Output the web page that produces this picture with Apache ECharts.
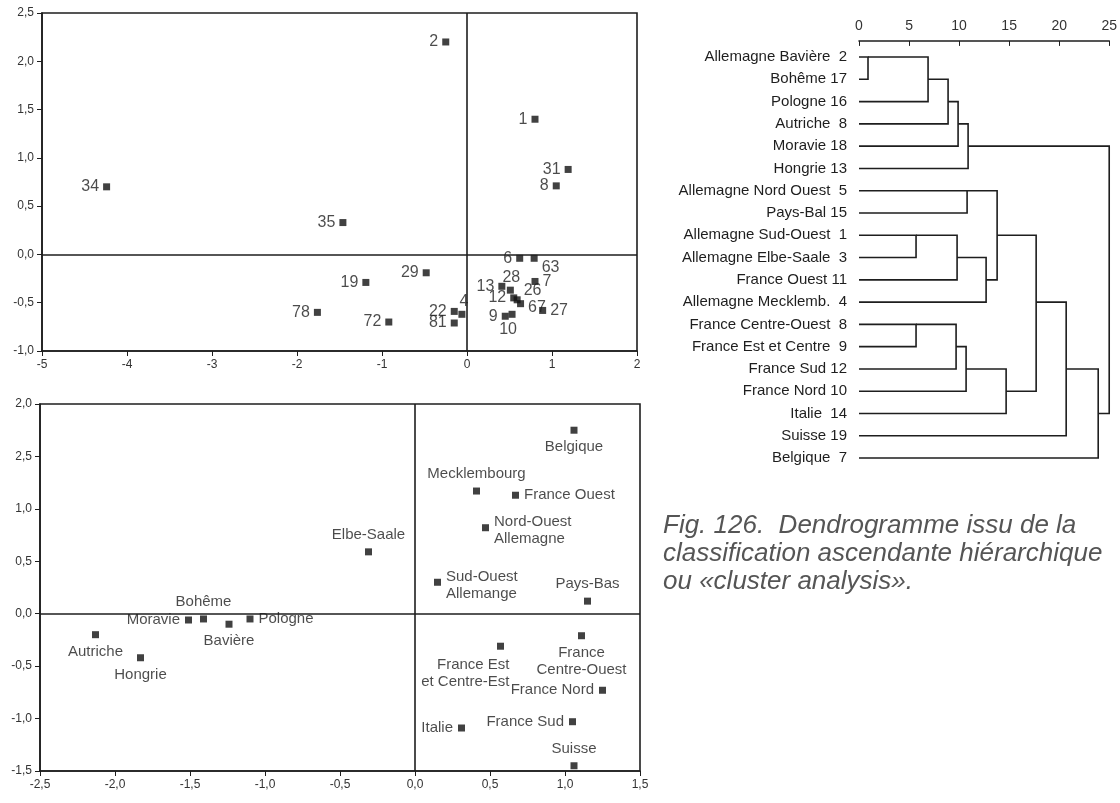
<!DOCTYPE html>
<html>
<head>
<meta charset="utf-8">
<title>Fig. 126</title>
<script src="https://cdn.jsdelivr.net/npm/echarts@6/dist/echarts.min.js"></script>
<style>
  html, body { margin: 0; padding: 0; background: #fff; }
  #chart { width: 1120px; height: 803px; }
</style>
</head>
<body>
<div id="chart"></div>
<script>
// plan factoriel du haut (numéros des sites)
var topIds = ['2', '1', '31', '8', '34', '35', '29', '19', '78', '72', '22', '4', '81',
  '6', '63', '13', '28', '7', '12', '26', '67', '27', '9', '10'];
var topX = [-0.25, 0.80, 1.19, 1.05, -4.24, -1.46, -0.48, -1.19, -1.76, -0.92, -0.15, -0.06, -0.15,
  0.62, 0.79, 0.41, 0.51, 0.80, 0.55, 0.59, 0.63, 0.89, 0.45, 0.53];
var topY = [2.20, 1.40, 0.88, 0.71, 0.70, 0.33, -0.19, -0.29, -0.60, -0.70, -0.59, -0.62, -0.71,
  -0.04, -0.04, -0.33, -0.37, -0.28, -0.45, -0.47, -0.51, -0.58, -0.64, -0.62];
var topXTicks = ['-5', '-4', '-3', '-2', '-1', '0', '1', '2'];
var topYTicks = ['-1,0', '-0,5', '0,0', '0,5', '1,0', '1,5', '2,0', '2,5'];

// plan factoriel du bas (régions)
var regions = ['Belgique', 'Mecklembourg', 'France Ouest', 'Nord-Ouest\nAllemagne', 'Elbe-Saale',
  'Sud-Ouest\nAllemange', 'Pays-Bas', 'Bohême', 'Moravie', 'Bavière', 'Pologne', 'Autriche', 'Hongrie',
  'France Est\net Centre-Est', 'France\nCentre-Ouest', 'France Nord', 'France Sud', 'Italie', 'Suisse'];
var regionX = [1.06, 0.41, 0.67, 0.47, -0.31, 0.15, 1.15, -1.41, -1.51, -1.24, -1.10, -2.13, -1.83,
  0.57, 1.11, 1.25, 1.05, 0.31, 1.06];
var regionY = [1.75, 1.17, 1.13, 0.82, 0.59, 0.30, 0.12, -0.05, -0.06, -0.10, -0.05, -0.20, -0.42,
  -0.31, -0.21, -0.73, -1.03, -1.09, -1.45];
var bottomXTicks = ['-2,5', '-2,0', '-1,5', '-1,0', '-0,5', '0,0', '0,5', '1,0', '1,5'];
var bottomYTicks = ['-1,5', '-1,0', '-0,5', '0,0', '0,5', '1,0', '2,5', '2,0'];

// dendrogramme : feuilles puis fusions (indices des groupes, niveau)
var leaves = ['Allemagne Bavière  2', 'Bohême 17', 'Pologne 16', 'Autriche  8', 'Moravie 18',
  'Hongrie 13', 'Allemagne Nord Ouest  5', 'Pays-Bal 15', 'Allemagne Sud-Ouest  1',
  'Allemagne Elbe-Saale  3', 'France Ouest 11', 'Allemagne Mecklemb.  4', 'France Centre-Ouest  8',
  'France Est et Centre  9', 'France Sud 12', 'France Nord 10', 'Italie  14', 'Suisse 19', 'Belgique  7'];
var mergeA = [0, 19, 20, 21, 22, 6, 8, 25, 26, 24, 12, 29, 30, 31, 28, 33, 34, 23];
var mergeB = [1, 2, 3, 4, 5, 7, 9, 10, 11, 27, 13, 14, 15, 16, 32, 17, 18, 35];
var mergeH = [0.9, 6.9, 8.9, 9.9, 10.9, 10.8, 5.7, 9.8, 12.7, 13.8, 5.7, 9.7, 10.7, 14.7, 17.7, 20.7, 23.9, 25];
var dendroTicks = ['0', '5', '10', '15', '20', '25'];

var narrow = "'Liberation Sans Narrow', 'Liberation Sans', Arial, sans-serif";
var ink = '#1e1e1e';

// placement des étiquettes (par défaut à gauche / à droite)
var topLabelPos = {
  '63': ['right', [0, 9]], '7': ['right', [0, 0]], '27': ['right', [0, 0]],
  '28': ['top', [1, 3]], '26': ['right', [-1, -9]], '67': ['right', [0, 4]],
  '10': ['bottom', [-4, 0]], '4': ['top', [2, 3]]
};
var regionLabelPos = {
  'Belgique': ['bottom', 'center'], 'Mecklembourg': ['top', 'center'], 'Elbe-Saale': ['top', 'center'],
  'Pays-Bas': ['top', 'center'], 'Bohême': ['top', 'center'], 'Moravie': ['left', 'right'],
  'Bavière': ['bottom', 'center'], 'Autriche': ['bottom', 'center'], 'Hongrie': ['bottom', 'center'],
  'France Est\net Centre-Est': ['bottom', 'right'], 'France\nCentre-Ouest': ['bottom', 'center'],
  'France Nord': ['left', 'right'], 'France Sud': ['left', 'right'], 'Italie': ['left', 'right'],
  'Suisse': ['top', 'center']
};

function tickFmt(labels, min, step) {
  return function (v) { return labels[Math.round((v - min) / step)] || ''; };
}

function buildDendro() {
  var row = [], level = [], segs = [];
  leaves.forEach(function (n, i) { row[i] = i; level[i] = 0; });
  for (var k = 0; k < mergeA.length; k++) {
    var a = mergeA[k], b = mergeB[k], h = mergeH[k];
    segs.push({ coords: [[level[a], row[a]], [h, row[a]], [h, row[b]], [level[b], row[b]]] });
    var id = leaves.length + k;
    row[id] = Math.floor((row[a] + row[b]) / 2);
    level[id] = h;
  }
  return segs;
}

var topData = topIds.map(function (id, i) {
  var p = topLabelPos[id] || ['left', [0, 0]];
  return { name: id, value: [topX[i], topY[i]], label: { position: p[0], offset: p[1] } };
});
var regionData = regions.map(function (n, i) {
  var p = regionLabelPos[n] || ['right', 'left'];
  var lbl = { position: p[0], align: p[1] };
  if (n === 'France Est\net Centre-Est') lbl.offset = [9, 2];
  if (n === 'Nord-Ouest\nAllemagne' || n === 'Sud-Ouest\nAllemange') lbl.offset = [0, 3];
  return { name: n, value: [regionX[i], regionY[i]], label: lbl };
});

var zeroLines = {
  symbol: 'none', silent: true, animation: false,
  label: { show: false },
  lineStyle: { color: ink, type: 'solid', width: 1.6 },
  data: [{ xAxis: 0 }, { yAxis: 0 }]
};

var axisCommon = {
  axisLine: { show: true, onZero: false, lineStyle: { color: ink, width: 1.6 } },
  axisTick: { show: true, length: 5, lineStyle: { color: ink } },
  splitLine: { show: false },
  axisLabel: { color: '#333', fontSize: 12, fontFamily: narrow }
};
function ax(extra) {
  return Object.assign({}, JSON.parse(JSON.stringify(axisCommon)), extra);
}

var chart = echarts.init(document.getElementById('chart'));
var xTop = ax({ type: 'value', gridIndex: 0, min: -5, max: 2, interval: 1 });
xTop.axisLabel.formatter = tickFmt(topXTicks, -5, 1);
var yTop = ax({ type: 'value', gridIndex: 0, min: -1, max: 2.5, interval: 0.5 });
yTop.axisLabel.formatter = tickFmt(topYTicks, -1, 0.5);
var xBot = ax({ type: 'value', gridIndex: 1, min: -2.5, max: 1.5, interval: 0.5 });
xBot.axisLabel.formatter = tickFmt(bottomXTicks, -2.5, 0.5);
var yBot = ax({ type: 'value', gridIndex: 1, min: -1.5, max: 2, interval: 0.5 });
yBot.axisLabel.formatter = tickFmt(bottomYTicks, -1.5, 0.5);
var xDen = ax({ type: 'value', gridIndex: 2, min: 0, max: 25, interval: 5, position: 'top', offset: 5 });
xDen.axisTick.inside = true;
xDen.axisLabel.fontSize = 14;
xDen.axisLabel.formatter = tickFmt(dendroTicks, 0, 5);

chart.setOption({
  backgroundColor: '#fff',
  animation: false,
  grid: [
    { left: 42, top: 13, width: 595, height: 338, show: true, borderColor: ink, borderWidth: 1.6 },
    { left: 40, top: 404, width: 600, height: 367, show: true, borderColor: ink, borderWidth: 1.6 },
    { left: 859, top: 45.9, width: 253, height: 423.3 }
  ],
  xAxis: [xTop, xBot, xDen],
  yAxis: [yTop, yBot, {
    type: 'category', gridIndex: 2, data: leaves, inverse: true,
    axisLine: { show: false }, axisTick: { show: false },
    axisLabel: { color: ink, fontSize: 15, fontFamily: narrow, margin: 12 }
  }],
  series: [
    {
      type: 'scatter', xAxisIndex: 0, yAxisIndex: 0, data: topData,
      symbol: 'rect', symbolSize: 7, itemStyle: { color: '#111' },
      label: { show: true, formatter: '{b}', color: ink, fontSize: 16, fontFamily: "'Liberation Sans', Arial, sans-serif", distance: 4 },
      markLine: zeroLines
    },
    {
      type: 'scatter', xAxisIndex: 1, yAxisIndex: 1, data: regionData,
      symbol: 'rect', symbolSize: 7, itemStyle: { color: '#111' },
      label: { show: true, formatter: '{b}', color: ink, fontSize: 15, lineHeight: 17, fontFamily: narrow, distance: 5 },
      markLine: zeroLines
    },
    {
      type: 'lines', coordinateSystem: 'cartesian2d', xAxisIndex: 2, yAxisIndex: 2,
      polyline: true, silent: true, data: buildDendro(),
      lineStyle: { color: ink, width: 1.6, opacity: 1 }
    }
  ],
  graphic: [{
    type: 'text', left: 663, top: 512,
    style: {
      text: 'Fig. 126.  Dendrogramme issu de la\nclassification ascendante hiérarchique\nou «cluster analysis».',
      font: 'italic 26px "Liberation Sans", Arial, sans-serif',
      lineHeight: 28, fill: '#555'
    }
  }]
});
</script>
</body>
</html>
